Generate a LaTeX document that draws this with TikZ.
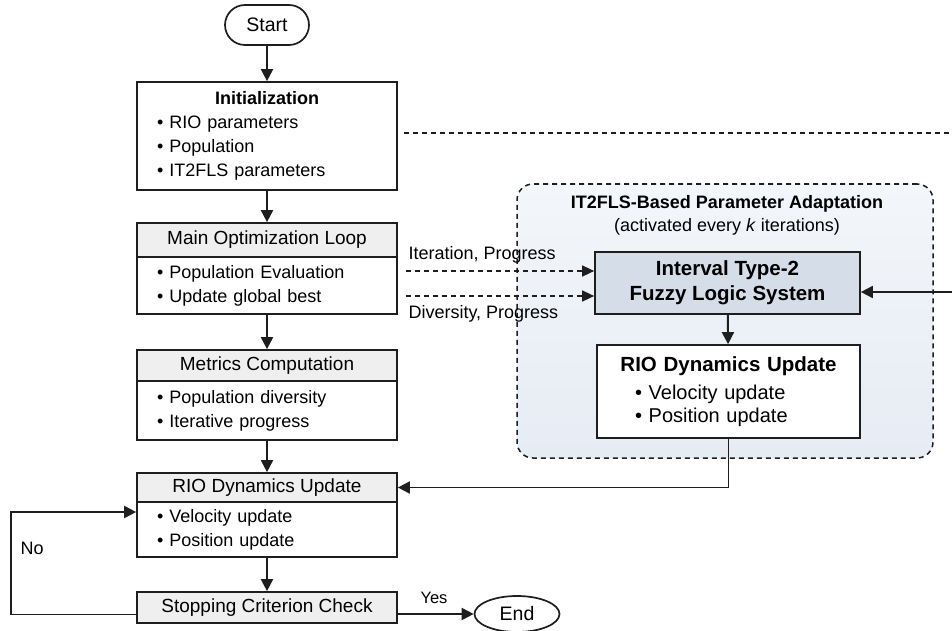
\documentclass[tikz,border=0pt]{standalone}
\usepackage{fontspec}
\setmainfont{Liberation Sans}
\usetikzlibrary{arrows.meta,positioning,shapes.geometric,shapes.misc}
\definecolor{linegray}{HTML}{1E1E1E}
\definecolor{headgray}{HTML}{EFEFEF}
\definecolor{fuzzyfill}{HTML}{D4DDE8}
\definecolor{adapttop}{HTML}{F3F6FA}
\definecolor{adaptbot}{HTML}{E6ECF4}

\begin{document}
\begin{tikzpicture}[x=1pt,y=-1pt,
  every node/.style={font=\fontsize{18}{24}\selectfont},
  headbox/.style={draw=linegray,line width=1.7pt,fill=headgray,minimum width=260pt,inner sep=0pt,font=\fontsize{19}{24}\selectfont},
  listbox/.style={draw=linegray,line width=1.7pt,fill=white,minimum width=260pt,text width=220pt,inner xsep=20pt,inner ysep=0pt,align=left},
  ovalbox/.style={draw=linegray,line width=1.7pt,fill=white,inner sep=0pt,font=\fontsize{19.5}{24}\selectfont},
  arr/.style={draw=linegray,line width=1.9pt,-{Triangle[length=12pt,width=12pt]}},
  darr/.style={draw=linegray,line width=1.5pt,dash pattern=on 5pt off 4pt,-{Triangle[length=12pt,width=11pt]}},
  dline/.style={draw=linegray,line width=1.5pt,dash pattern=on 5pt off 4pt}]
\useasboundingbox (0,0) rectangle (952,631);
\node[draw=linegray,dash pattern=on 5pt off 4pt,line width=1.5pt,rounded corners=16pt,top color=adapttop,bottom color=adaptbot,minimum width=416pt,minimum height=274pt] (adapt) at (725,321) {};
\node[align=center,font=\fontsize{18}{23}\selectfont] (adapttitle) at (727,215.5) {{\bfseries IT2FLS-Based Parameter Adaptation}\\ (activated every \textit{k} iterations)};
\node[draw=linegray,line width=1.7pt,fill=fuzzyfill,minimum width=265pt,minimum height=62pt,align=center,font=\fontsize{20.5}{25}\selectfont\bfseries] (fuzzy) at (727.5,283) {Interval Type-2\\ Fuzzy Logic System};
\node[draw=linegray,line width=1.7pt,fill=white,minimum width=263pt,minimum height=93pt,text width=187pt,inner xsep=38pt,inner ysep=0pt,align=left,font=\fontsize{20}{23}\selectfont] (rioupd) at (728.5,391.5) {\makebox[187pt]{\fontsize{20.5}{25}\selectfont\bfseries RIO Dynamics Update}\\[5pt] \textbullet\ Velocity update\\ \textbullet\ Position update};

\node[ovalbox,rounded rectangle,minimum width=84pt,minimum height=40pt] (start) at (267,25) {Start};
\node[listbox,minimum height=108pt] (init) at (267,136) {\makebox[220pt]{\bfseries Initialization}\\ \textbullet\ RIO parameters\\ \textbullet\ Population\\ \textbullet\ IT2FLS parameters};
\node[headbox,minimum height=34pt] (loophead) at (267,240) {Main Optimization Loop};
\node[listbox,minimum height=57pt] (loopbody) at (267,285.5) {\textbullet\ Population Evaluation\\ \textbullet\ Update global best};
\node[headbox,minimum height=31pt] (methead) at (267,365.5) {Metrics Computation};
\node[listbox,minimum height=59pt] (metbody) at (267,410.5) {\textbullet\ Population diversity\\ \textbullet\ Iterative progress};
\node[headbox,minimum height=29pt] (riohead) at (267,487.5) {RIO Dynamics Update};
\node[listbox,minimum height=55pt] (riobody) at (267,529.5) {\textbullet\ Velocity update\\ \textbullet\ Position update};
\node[headbox,minimum height=31pt] (stop) at (267,607.5) {Stopping Criterion Check};
\node[ovalbox,ellipse,minimum width=85pt,minimum height=36pt] (finish) at (517,614) {End};

\draw[arr] (start) -- (init);
\draw[arr] (init) -- (loophead);
\draw[arr] (loopbody) -- (methead);
\draw[arr] (metbody) -- (riohead);
\draw[arr] (riobody) -- (stop);
\draw[arr] (fuzzy) -- (rioupd);
\draw[arr] (rioupd) |- (riohead);
\draw[arr] ([yshift=-7pt]stop.west) -- ++(-125,0) |- ([yshift=17.5pt]riobody.west);
\node[anchor=west] (nolabel) at (17,548) {No};
\draw[arr] (stop.east |- finish) -- (finish);
\node[font=\fontsize{16.5}{20}\selectfont] (yeslabel) at (434,598) {Yes};

\coordinate (iterin) at ([yshift=12pt]fuzzy.west);
\coordinate (divin) at ([yshift=-13pt]fuzzy.west);
\draw[darr] ([xshift=8pt]loopbody.east |- iterin) -- (iterin);
\draw[darr] ([xshift=8pt]loopbody.east |- divin) -- (divin);
\node[anchor=west] (iterlabel) at (405,255) {Iteration, Progress};
\node[anchor=west] (divlabel) at (405,314) {Diversity, Progress};

\coordinate (rimtop) at (952,133);
\draw[dline] ([xshift=6pt]init.east |- rimtop) -- (rimtop);
\coordinate (rimright) at (952,292);
\draw[arr] (rimright) -- (fuzzy.east |- rimright);
\end{tikzpicture}
\end{document}
